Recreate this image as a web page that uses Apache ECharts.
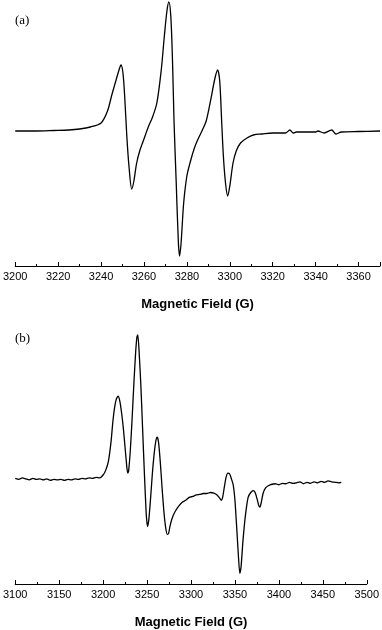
<!DOCTYPE html>
<html>
<head>
<meta charset="utf-8">
<script src="https://cdn.jsdelivr.net/npm/echarts@6/dist/echarts.min.js"></script>
<style>
  html, body { margin: 0; padding: 0; background: #fff; }
  #chart { width: 382px; height: 630px; }
</style>
</head>
<body>
<div id="chart"></div>
<script>
// panel (a): field (G) and signal (arb. units, baseline = 0)
var fieldA = [3200, 3210, 3218, 3225, 3230, 3235, 3240, 3243, 3245, 3247, 3248.5, 3249.3, 3250.2, 3251, 3252, 3253, 3254.3, 3255.3, 3256.5, 3258, 3260, 3262, 3264, 3266, 3268, 3269.5, 3270.7, 3271.6, 3272.5, 3273.3, 3274, 3275, 3276, 3276.6, 3277.3, 3278.5, 3280, 3281.7, 3283.5, 3285, 3287, 3289, 3291, 3293, 3294.3, 3295.3, 3296.2, 3297, 3298, 3299, 3300, 3301.5, 3303, 3305, 3308, 3311, 3315, 3320, 3326, 3328, 3329.5, 3331, 3340, 3341, 3344, 3347.5, 3349.5, 3352, 3360, 3370];
var signalA = [0, 0, 0.5, 1, 2, 4, 8, 20, 36, 51, 62, 66, 58, 35, -5, -35, -58, -50, -33, -20, -8, 4, 14, 28, 60, 95, 120, 129, 115, 70, 10, -50, -110, -125, -112, -72, -45, -30, -17, -9, 0, 10, 30, 52, 61, 50, 10, -25, -52, -65, -55, -32, -20, -12, -7, -4, -3, -2, -2, 1, -2, -1, -1, 0, -2, 1, -3, -1, -0.5, 0];

// panel (b)
var fieldB = [3100, 3104, 3108, 3112, 3116, 3120, 3124, 3128, 3132, 3136, 3140, 3144, 3148, 3152, 3156, 3160, 3164, 3168, 3172, 3176, 3180, 3184, 3188, 3192, 3196, 3200, 3203, 3206, 3209, 3211, 3213, 3215, 3217, 3219, 3221, 3223, 3225, 3227, 3228, 3229, 3231, 3233, 3235, 3237, 3238.5, 3239.5, 3241, 3243, 3245, 3247, 3249, 3250.5, 3252, 3254, 3256, 3258, 3260, 3261.5, 3263, 3265, 3267, 3269, 3271, 3273, 3274.5, 3276, 3278, 3280, 3283, 3286, 3290, 3294, 3298, 3302, 3306, 3310, 3314, 3318, 3322, 3326, 3329, 3332, 3334.5, 3336, 3338, 3340, 3342, 3344, 3346, 3348, 3350, 3352, 3354, 3355.5, 3357, 3359, 3361, 3363, 3365, 3368, 3371, 3373, 3375, 3377, 3378.5, 3380, 3382, 3385, 3388, 3392, 3396, 3400, 3404, 3408, 3412, 3416, 3420, 3424, 3428, 3432, 3436, 3440, 3444, 3448, 3452, 3456, 3460, 3464, 3468, 3471];
var signalB = [0.5, -0.5, 1, 0, -1, 0.5, -0.5, 0, -1, 0, -1.5, -0.5, -1, -0.5, -1.5, -0.5, -1, 0, -0.5, 0.5, 0, 1, 0.5, 1.5, 1, 4, 9, 18, 38, 58, 73, 82, 85, 80, 68, 52, 32, 12, 6, 8, 30, 62, 98, 130, 146, 148, 130, 95, 50, 5, -35, -49, -42, -20, 5, 25, 39, 43, 38, 18, -8, -32, -49, -57, -56, -49, -42, -37, -32, -28, -24, -22, -19, -18, -16.5, -16, -15, -15, -14, -14.5, -16, -19, -22, -19, -8, 2, 6, 5, 0, -6, -22, -50, -80, -97, -90, -65, -45, -30, -19, -14, -12, -14, -20, -27, -29, -24, -15, -9, -7, -5.5, -5, -6, -4.5, -5, -3.5, -4.5, -4, -3, -5, -3.5, -4.5, -3, -4, -2.5, -3.5, -2, -3, -3.5, -4, -3.5];

function pairs(xs, ys) {
  return xs.map(function (x, i) { return [x, ys[i]]; });
}

var chart = echarts.init(document.getElementById("chart"));

var xCommon = {
  type: "value",
  axisLine: { onZero: false, lineStyle: { color: "#000", width: 1 } },
  axisTick: { inside: true, length: 4, lineStyle: { color: "#000" } },
  minorTick: { show: true, splitNumber: 2, length: 2, lineStyle: { color: "#000" } },
  splitLine: { show: false },
  axisLabel: {
    color: "#000", fontSize: 11, fontFamily: "Liberation Sans", margin: 5, showMaxLabel: false,
    formatter: function (v) { return String(v); }
  },
  name: "Magnetic Field (G)",
  nameLocation: "middle",
  nameGap: 32,
  nameTextStyle: { color: "#000", fontSize: 13, fontWeight: "bold", fontFamily: "Liberation Sans" }
};

chart.setOption({
  animation: false,
  grid: [
    { left: 14, right: 2, top: 0, height: 266 },
    { left: 12.7, right: 13, top: 330, height: 261 }
  ],
  xAxis: [
    Object.assign({}, xCommon, { gridIndex: 0, min: 3200, max: 3370, interval: 20 }),
    Object.assign({}, xCommon, { gridIndex: 1, min: 3100, max: 3500, interval: 50,
      axisLabel: Object.assign({}, xCommon.axisLabel, { showMaxLabel: true }) })
  ],
  yAxis: [
    { type: "value", gridIndex: 0, min: -135, max: 131, show: false },
    { type: "value", gridIndex: 1, min: -108, max: 153, show: false }
  ],
  graphic: [
    { type: "text", left: 15, top: 14, style: { text: "(a)", fontSize: 13, fontFamily: "Liberation Serif", fill: "#000" } },
    { type: "text", left: 15, top: 332, style: { text: "(b)", fontSize: 13, fontFamily: "Liberation Serif", fill: "#000" } }
  ],
  series: [
    {
      type: "line", xAxisIndex: 0, yAxisIndex: 0, showSymbol: false, smooth: 0.3,
      lineStyle: { color: "#000", width: 1.3 },
      data: pairs(fieldA, signalA)
    },
    {
      type: "line", xAxisIndex: 1, yAxisIndex: 1, showSymbol: false, smooth: 0.2,
      lineStyle: { color: "#000", width: 1.3 },
      data: pairs(fieldB, signalB)
    }
  ]
});
</script>
</body>
</html>
